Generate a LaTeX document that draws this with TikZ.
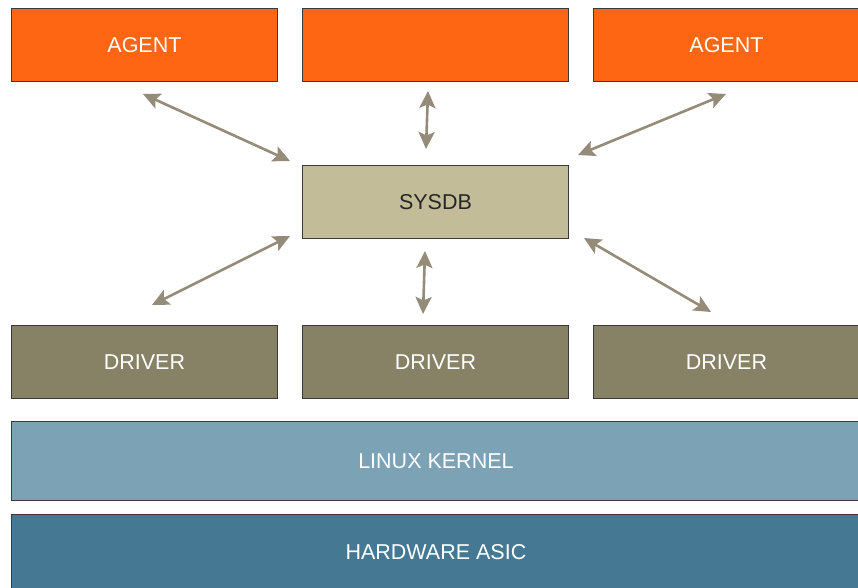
\documentclass[tikz,border=0pt]{standalone}
\usepackage{fontspec}
\setmainfont{Liberation Sans}
\usetikzlibrary{arrows.meta}
\definecolor{agentc}{HTML}{FF6614}
\definecolor{sysdbc}{HTML}{C2BC98}
\definecolor{driverc}{HTML}{878166}
\definecolor{kernelc}{HTML}{7CA2B5}
\definecolor{hwc}{HTML}{447893}
\definecolor{arrowc}{HTML}{958B79}
\definecolor{edgec}{HTML}{3A3A3A}
\tikzset{
  blk/.style={draw=edgec, line width=0.9pt, minimum height=73pt, inner sep=0pt,
    font=\fontsize{21.5}{25}\selectfont, text=white, anchor=north west},
  wbox/.style={blk, minimum width=266pt},
  biarrow/.style={arrowc, line width=2.6pt, {Stealth[length=17pt 0 0,width=16pt 0 0,inset=3.5pt]}-{Stealth[length=17pt 0 0,width=16pt 0 0,inset=3.5pt]}}
}
\begin{document}
\begin{tikzpicture}[x=1pt,y=-1pt]
\useasboundingbox (0,0) rectangle (858,588);
\node[wbox, fill=agentc] (ag1) at (11,8) {AGENT};
\node[wbox, fill=agentc] (ag2) at (302,8) {};
\node[wbox, fill=agentc] (ag3) at (593,8) {AGENT};
\node[wbox, fill=sysdbc, text=black!85] (sysdb) at (302,165) {SYSDB};
\node[wbox, fill=driverc] (dr1) at (11,325) {DRIVER};
\node[wbox, fill=driverc] (dr2) at (302,325) {DRIVER};
\node[wbox, fill=driverc] (dr3) at (593,325) {DRIVER};
\node[blk, fill=kernelc, minimum width=849pt, minimum height=79pt] (kern) at (11,421) {LINUX KERNEL};
\node[blk, fill=hwc, minimum width=849pt, minimum height=76pt] (hw) at (11,514) {HARDWARE ASIC};
\coordinate (a1s) at (143,94);  \coordinate (a1e) at (290,161);
\coordinate (a2s) at (428,91);  \coordinate (a2e) at (426,149);
\coordinate (a3s) at (726,94);  \coordinate (a3e) at (578,155);
\coordinate (b1s) at (290,236); \coordinate (b1e) at (152,305);
\coordinate (b2s) at (425,251); \coordinate (b2e) at (423,314);
\coordinate (b3s) at (584,238); \coordinate (b3e) at (711,312);
\draw[biarrow] (a1s) -- (a1e);
\draw[biarrow] (a2s) -- (a2e);
\draw[biarrow] (a3s) -- (a3e);
\draw[biarrow] (b1s) -- (b1e);
\draw[biarrow] (b2s) -- (b2e);
\draw[biarrow] (b3s) -- (b3e);
\end{tikzpicture}
\end{document}
